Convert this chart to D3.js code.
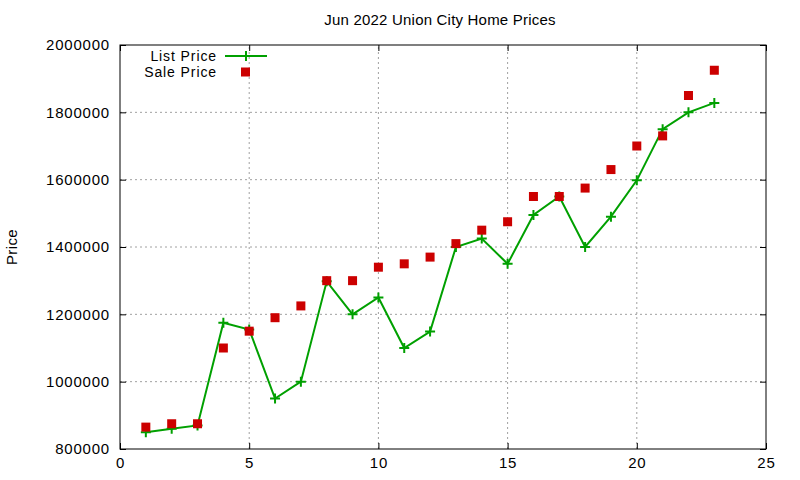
<!DOCTYPE html>
<html>
<head>
<meta charset="utf-8">
<script src="https://cdn.jsdelivr.net/npm/d3@7"></script>
<style>
  body { margin: 0; background: #fff; }
  text { font-family: "Liberation Sans", Arial, sans-serif; }
</style>
</head>
<body>
<svg id="chart"></svg>
<script>
const months = d3.range(1, 24);
const listPrice = [
    850000, 860000, 870000, 1175000, 1155000, 950000, 1000000, 1298000,
    1200000, 1250000, 1100000, 1149000, 1400000, 1425000, 1350000, 1495000,
    1550000, 1400000, 1490000, 1598000, 1750000, 1800000, 1828000
];
const salePrice = [
    865000, 875000, 875000, 1100000, 1150000, 1190000, 1225000, 1300000,
    1300000, 1340000, 1350000, 1370000, 1410000, 1450000, 1475000, 1550000,
    1550000, 1575000, 1630000, 1700000, 1730000, 1850000, 1925000
];
const xTicks = [0, 5, 10, 15, 20, 25];
const yTicks = [800000, 1000000, 1200000, 1400000, 1600000, 1800000, 2000000];

const width = 800, height = 480;
const margin = {top: 45, right: 34, bottom: 31, left: 120};
const green = '#00a000', red = '#cc0000';

const svg = d3.select('#chart')
    .attr('width', width)
    .attr('height', height);

const x = d3.scaleLinear().domain([0, 25]).range([margin.left, width - margin.right]);
const y = d3.scaleLinear().domain([800000, 2000000]).range([height - margin.bottom, margin.top]);

// grid
svg.append('g')
    .selectAll('line')
    .data(xTicks.slice(1, -1))
    .join('line')
    .attr('x1', d => x(d)).attr('x2', d => x(d))
    .attr('y1', y.range()[0]).attr('y2', y.range()[1])
    .attr('stroke', '#a0a0a0').attr('stroke-dasharray', '2,3');
svg.append('g')
    .selectAll('line')
    .data(yTicks.slice(1, -1))
    .join('line')
    .attr('y1', d => y(d)).attr('y2', d => y(d))
    .attr('x1', x.range()[0]).attr('x2', x.range()[1])
    .attr('stroke', '#a0a0a0').attr('stroke-dasharray', '2,3');

// axes, ticks inside and mirrored
const tickLen = 6;
svg.append('g')
    .attr('transform', `translate(0,${y.range()[0]})`)
    .call(d3.axisBottom(x).tickValues(xTicks).tickSize(-tickLen).tickPadding(8))
    .call(g => g.select('.domain').remove());
svg.append('g')
    .attr('transform', `translate(0,${y.range()[1]})`)
    .call(d3.axisTop(x).tickValues(xTicks).tickSize(-tickLen).tickFormat(''))
    .call(g => g.select('.domain').remove());
svg.append('g')
    .attr('transform', `translate(${x.range()[0]},0)`)
    .call(d3.axisLeft(y).tickValues(yTicks).tickSize(-tickLen).tickPadding(10).tickFormat(d3.format('d')))
    .call(g => g.select('.domain').remove());
svg.append('g')
    .attr('transform', `translate(${x.range()[1]},0)`)
    .call(d3.axisRight(y).tickValues(yTicks).tickSize(-tickLen).tickFormat(''))
    .call(g => g.select('.domain').remove());

svg.selectAll('.tick text')
    .style('font-size', '15px')
    .style('letter-spacing', '0.8px')
    .attr('fill', '#000');
svg.selectAll('.tick line').attr('stroke', '#000');

svg.append('rect')
    .attr('x', x.range()[0]).attr('y', y.range()[1])
    .attr('width', x.range()[1] - x.range()[0])
    .attr('height', y.range()[0] - y.range()[1])
    .attr('fill', 'none').attr('stroke', '#000').attr('stroke-width', 1);

// list price line
const line = d3.line().x((d, i) => x(months[i])).y(d => y(d));
svg.append('path')
    .datum(listPrice)
    .attr('d', line)
    .attr('fill', 'none')
    .attr('stroke', green)
    .attr('stroke-width', 2);

function plus(g, cx, cy) {
    g.append('path')
        .attr('d', `M${cx - 5},${cy}H${cx + 5}M${cx},${cy - 5}V${cy + 5}`)
        .attr('stroke', green).attr('stroke-width', 2);
}
const pts = svg.append('g');
listPrice.forEach((d, i) => plus(pts, x(months[i]), y(d)));

// sale price squares
svg.append('g')
    .selectAll('rect')
    .data(salePrice)
    .join('rect')
    .attr('x', (d, i) => x(months[i]) - 4.5)
    .attr('y', d => y(d) - 4.5)
    .attr('width', 9).attr('height', 9)
    .attr('fill', red);

// legend
const legend = svg.append('g');
legend.append('text')
    .attr('x', 217).attr('y', 61)
    .attr('text-anchor', 'end')
    .style('font-size', '14px')
    .style('letter-spacing', '0.9px')
    .text('List Price');
legend.append('line')
    .attr('x1', 225).attr('x2', 267).attr('y1', 56).attr('y2', 56)
    .attr('stroke', green).attr('stroke-width', 2);
plus(legend, 246, 56);
legend.append('text')
    .attr('x', 217).attr('y', 77)
    .attr('text-anchor', 'end')
    .style('font-size', '14px')
    .style('letter-spacing', '0.9px')
    .text('Sale Price');
legend.append('rect')
    .attr('x', 241).attr('y', 67.5).attr('width', 9).attr('height', 9)
    .attr('fill', red);

// title and axis label
svg.append('text')
    .attr('x', 440).attr('y', 25)
    .attr('text-anchor', 'middle')
    .style('font-size', '15px')
    .style('letter-spacing', '0.2px')
    .text('Jun 2022 Union City Home Prices');
svg.append('text')
    .attr('transform', `translate(17,${(y.range()[0] + y.range()[1]) / 2}) rotate(-90)`)
    .attr('text-anchor', 'middle')
    .style('font-size', '15px')
    .style('letter-spacing', '0.4px')
    .text('Price');
</script>
</body>
</html>
